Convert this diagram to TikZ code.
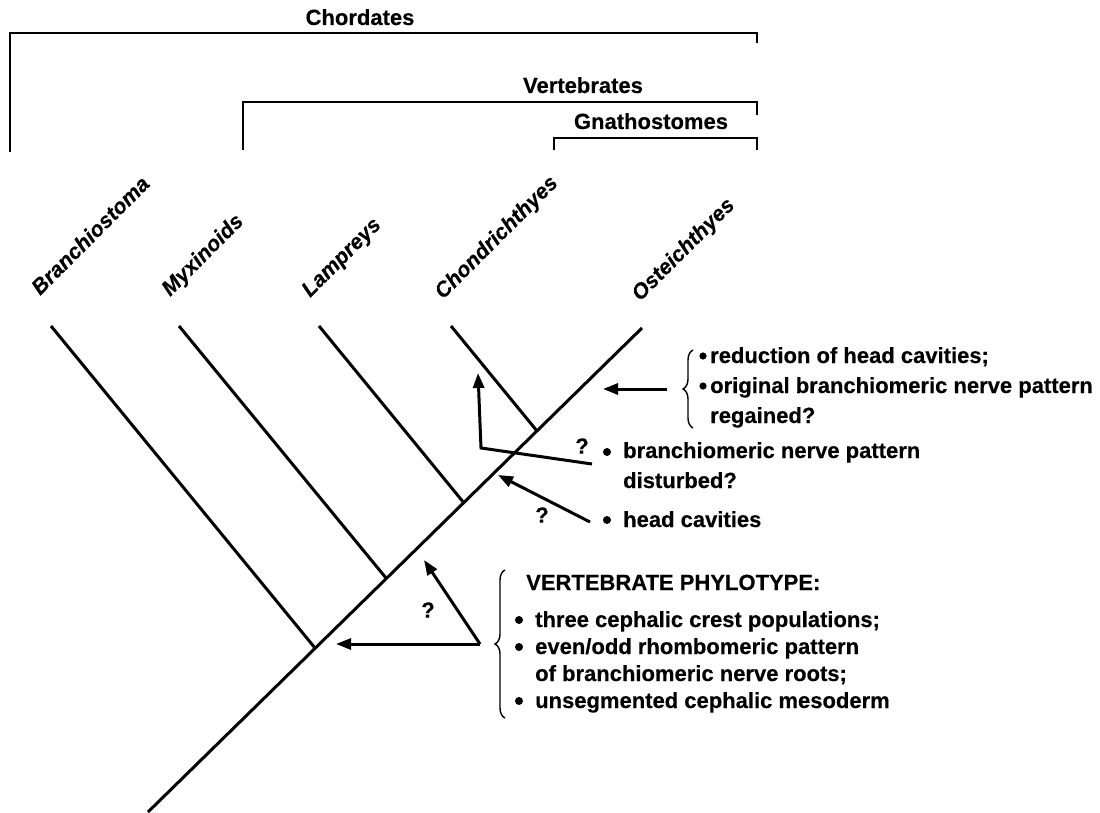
\documentclass[tikz,border=0pt]{standalone}
\usepackage{fontspec}
\setmainfont{Liberation Sans}[BoldFeatures={FakeBold=0.35}, BoldItalicFeatures={FakeBold=0.35}]
\usetikzlibrary{arrows.meta, decorations.pathreplacing}

\tikzset{
  tree/.style={line width=3pt},
  clade/.style={line width=1.5pt},
  arr/.style={line width=3pt, ->},
  txt/.style={anchor=base west, inner sep=0pt, font=\bfseries\fontsize{22}{26}\selectfont},
  taxon/.style={txt, font=\bfseries\itshape\fontsize{21.5}{26}\selectfont, rotate=45},
  brc/.style={line width=1.4pt, decorate, decoration={brace, amplitude=10pt}},
}

\begin{document}
\begin{tikzpicture}[x=1pt,y=-1pt,>={Triangle[length=15pt,width=11pt]}]
\useasboundingbox (0,0) rectangle (1100,813);
% clades on top
\node[txt, anchor=base](C) at (360,25){Chordates};
\node[txt, anchor=base](V) at (583,93){Vertebrates};
\node[txt, anchor=base](G) at (651,129){Gnathostomes};
\draw[clade] (10,152) -- (10,33) -- (757,33) -- (757,43);
\draw[clade] (243,150) -- (243,102) -- (757,102) -- (757,115);
\draw[clade] (554,150) -- (554,138) -- (757,138) -- (757,150);

% tree
\coordinate(R) at (148,812);
\coordinate(B5) at (642,328);
\coordinate(J1) at (315,648);
\coordinate(J2) at (386,578);
\coordinate(J3) at (464,503);
\coordinate(J4) at (537,431);
\coordinate(B1) at (51,326);
\coordinate(B2) at (179,326);
\coordinate(B3) at (319,326);
\coordinate(B4) at (451,326);
\draw[tree](R)--(B5);
\draw[tree](B1)--(J1);
\draw[tree](B2)--(J2);
\draw[tree](B3)--(J3);
\draw[tree](B4)--(J4);
\node[taxon](T1) at (40,296){Branchiostoma};
\node[taxon](T2) at (170,297){Myxinoids};
\node[taxon](T3) at (310,298){Lampreys};
\node[taxon](T4) at (443,300){Chondrichthyes};
\node[taxon](T5) at (640,302){Osteichthyes};

% gnathostome characters
\draw[brc] (693,428) -- (693,350);
\fill (703,356) circle (3.6);
\fill (703,386) circle (3.6);
\node[txt](U1) at (710,363){reduction of head cavities;};
\node[txt](U2) at (710,393){original branchiomeric nerve pattern};
\node[txt](U3) at (710,423){regained?};
\coordinate(U0) at (667,389);
\coordinate(UT) at (603,389);
\draw[arr](U0)--(UT);

% lamprey / gnathostome characters
\fill (607,452) circle (4);
\fill (607,520) circle (4);
\node[txt](M1) at (623,458){branchiomeric nerve pattern};
\node[txt](M2) at (623,488){disturbed?};
\node[txt](M3) at (623,527){head cavities};
\node[txt, anchor=center](Q1) at (582,446){?};
\node[txt, anchor=center](Q2) at (542,515){?};
\coordinate(M0) at (592,464);
\coordinate(MC) at (481,448);
\coordinate(MT) at (478,373);
\draw[arr](M0)--(MC)--(MT);
\coordinate(H0) at (590,522);
\coordinate(HT) at (498,475);
\draw[arr](H0)--(HT);

% vertebrate phylotype
\draw[brc] (505,718) -- (505,570);
\node[txt](P0) at (526,590){VERTEBRATE PHYLOTYPE:};
\fill (519,620) circle (4);
\fill (519,647) circle (4);
\fill (519,701) circle (4);
\node[txt](P1) at (535,627){three cephalic crest populations;};
\node[txt](P2) at (535,654){even/odd rhombomeric pattern};
\node[txt](P3) at (535,681){of branchiomeric nerve roots;};
\node[txt](P4) at (535,708){unsegmented cephalic mesoderm};
\node[txt, anchor=center](Q3) at (428,610){?};
\coordinate(P) at (480,644);
\coordinate(PT1) at (336,644);
\coordinate(PT2) at (424,560);
\draw[arr](P)--(PT1);
\draw[arr](P)--(PT2);
\end{tikzpicture}
\end{document}
